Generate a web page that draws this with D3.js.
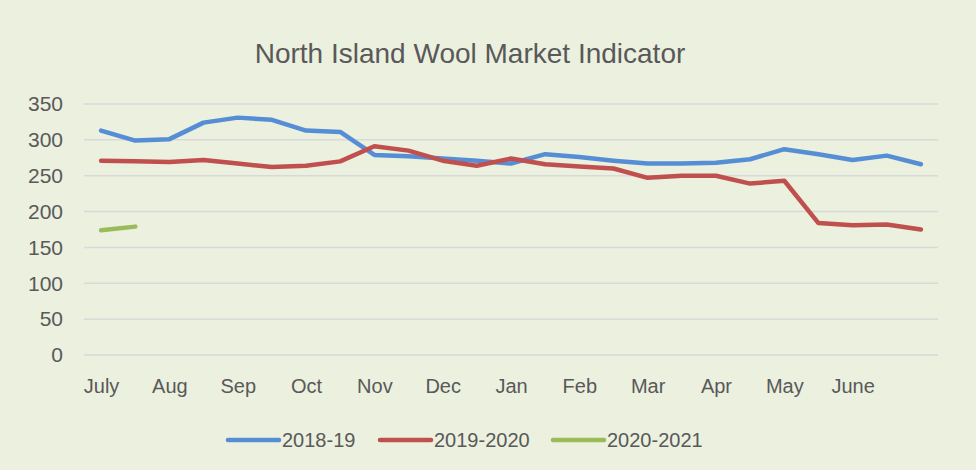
<!DOCTYPE html>
<html>
<head>
<meta charset="utf-8">
<script src="https://cdn.jsdelivr.net/npm/d3@7"></script>
<style>
  body { margin: 0; background: #ebf0df; }
  svg text { font-family: "Liberation Sans", Arial, sans-serif; fill: #595959; }
</style>
</head>
<body>
<svg width="976" height="470"></svg>
<script>
// two readings per month, July to June
const months = ["July", "", "Aug", "", "Sep", "", "Oct", "", "Nov", "", "Dec", "", "Jan", "",
    "Feb", "", "Mar", "", "Apr", "", "May", "", "June", "", ""];
const yTicks = [0, 50, 100, 150, 200, 250, 300, 350];

const s2018 = [313, 299, 301, 324, 331, 328, 313, 311, 279, 277, 274, 271, 267,
    280, 276, 271, 267, 267, 268, 273, 287, 280, 272, 278, 266];
const s2019 = [271, 270, 269, 272, 267, 262, 264, 270, 291, 285, 271, 264, 274,
    266, 263, 260, 247, 250, 250, 239, 243, 184, 181, 182, 175];
const s2020 = [174, 179];

const seriesNames = ["2018-19", "2019-2020", "2020-2021"];
const colors = ["#558ed5", "#c0504d", "#9bbb59"];

const svg = d3.select("svg");
svg.append("rect").attr("width", 976).attr("height", 470).attr("fill", "#ebf0df");

const x = d3.scalePoint().domain(d3.range(months.length)).range([84, 938]).padding(0.5);
const y = d3.scaleLinear().domain([0, 350]).range([355, 104]);

// title
svg.append("text").attr("x", 470).attr("y", 63).attr("text-anchor", "middle")
    .style("font-size", "28px").text("North Island Wool Market Indicator");

// gridlines
svg.append("g").selectAll("line").data(yTicks).enter().append("line")
    .attr("x1", 84).attr("x2", 938)
    .attr("y1", d => y(d)).attr("y2", d => y(d))
    .attr("stroke", "#d9d9d9").attr("stroke-width", 1.5);

// y axis
const yAxis = svg.append("g").attr("transform", "translate(63,0)")
    .call(d3.axisLeft(y).tickValues(yTicks).tickSize(0).tickPadding(0));
yAxis.select(".domain").remove();
yAxis.selectAll("text").style("font-size", "21px").attr("fill", "#595959");

// x axis
const xAxis = svg.append("g").attr("transform", "translate(0,379)")
    .call(d3.axisBottom(x).tickFormat(i => months[i]).tickSize(0).tickPadding(0));
xAxis.select(".domain").remove();
xAxis.selectAll("text").style("font-size", "20px").attr("fill", "#595959");

// lines
const line = d3.line().x((d, i) => x(i)).y(d => y(d));
[s2018, s2019, s2020].forEach((s, k) => {
    svg.append("path").datum(s).attr("d", line)
        .attr("fill", "none").attr("stroke", colors[k]).attr("stroke-width", 4.5)
        .attr("stroke-linecap", "round").attr("stroke-linejoin", "round");
});

// legend
const legendX = [228, 380, 553];
const legend = svg.append("g").selectAll("g").data(seriesNames).enter().append("g")
    .attr("transform", (d, i) => "translate(" + legendX[i] + ",440)");
legend.append("line").attr("x1", 0).attr("x2", 51)
    .attr("stroke", (d, i) => colors[i]).attr("stroke-width", 4.5).attr("stroke-linecap", "round");
legend.append("text").attr("x", 54).attr("y", 7).style("font-size", "20px").text(d => d);
</script>
</body>
</html>
